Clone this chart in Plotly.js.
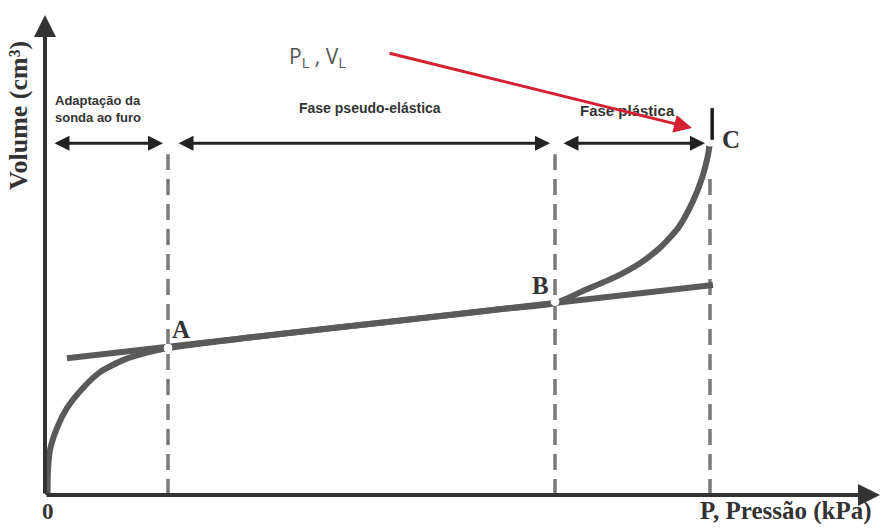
<!DOCTYPE html>
<html>
<head>
<meta charset="utf-8">
<script src="https://cdn.plot.ly/plotly-3.0.1.min.js"></script>
<style>
  html, body { margin: 0; padding: 0; background: #fff; }
  #chart { width: 889px; height: 529px; }
</style>
</head>
<body>
<div id="chart"></div>
<script>
// Pressuremeter curve: volume injected vs. applied pressure (schematic units)
const curvePressure = [0.3, 0.36, 0.6, 1.44, 2.63, 4.55, 6.59, 9.34, 12.57, 14.73,
                       25, 35, 45, 55, 61.08,
                       64.67, 68.26, 71.26, 73.65, 75.81, 77.49, 78.68, 79.40, 79.64];
const curveVolume   = [0, 5.2, 9.4, 14.0, 18.1, 22.3, 25.6, 28.1, 29.8, 30.6,
                       32.9, 34.9, 36.8, 38.8, 40.0,
                       42.7, 45.4, 48.3, 51.5, 55.6, 60.8, 66.0, 70.8, 73.5];

// Straight line fitted to the pseudo-elastic stretch
const fitPressure = [2.63, 80.0];
const fitVolume   = [28.5, 43.75];

// Characteristic points
const pointNames    = ['A', 'B', 'C'];
const pointPressure = [14.73, 61.08, 79.64];
const pointVolume   = [30.6, 40.3, 73.5];
const dashTop       = [71.0, 71.0, 66.0];

// Phase bands along the top (start / end pressure)
const phaseNames = ['Adaptação da<br>sonda ao furo', 'Fase pseudo-elástica', 'Fase plástica'];
const phaseStart = [0.96, 15.81, 61.92];
const phaseEnd   = [14.13, 60.48, 79.04];
const phaseTextX = [0.96, 38.9, 69.8];
const phaseArrowV = 73.3;
const phaseTextV  = [80.4, 80.6, 80.2];
const phaseFontSize = [13, 14, 15];

const grey = '#5a5a5a';
const serifBold = 'Liberation Serif';

const traces = [];

// vertical dashed guides at A, B, C
pointPressure.forEach((p, i) => {
  traces.push({
    x: [p, p], y: [0, dashTop[i]], mode: 'lines',
    line: { color: '#7a7a7a', width: 3.5, dash: '16px,9px' },
    hoverinfo: 'skip', showlegend: false
  });
});

traces.push({
  x: fitPressure, y: fitVolume, mode: 'lines',
  line: { color: grey, width: 6 }, hoverinfo: 'skip', showlegend: false
});

traces.push({
  x: curvePressure, y: curveVolume, mode: 'lines',
  line: { color: grey, width: 6, shape: 'spline', smoothing: 0.6 },
  hoverinfo: 'skip', showlegend: false
});

traces.push({
  x: pointPressure, y: pointVolume, mode: 'markers',
  marker: { size: 8, color: '#ffffff', line: { color: '#ffffff', width: 1 } },
  hoverinfo: 'skip', showlegend: false
});

// short black tick above C
traces.push({
  x: [79.9, 79.9], y: [74.0, 80.6], mode: 'lines',
  line: { color: '#1a1a1a', width: 3.5 }, hoverinfo: 'skip', showlegend: false
});

const annotations = [];

// axes with arrowheads
annotations.push({ x: 100, y: 0, ax: 0, ay: 0, xref: 'x', yref: 'y', axref: 'x', ayref: 'y',
  showarrow: true, arrowhead: 2, arrowsize: 1.1, arrowwidth: 4, arrowcolor: '#333', text: '' });
annotations.push({ x: 0, y: 100, ax: 0, ay: 0, xref: 'x', yref: 'y', axref: 'x', ayref: 'y',
  showarrow: true, arrowhead: 2, arrowsize: 1.1, arrowwidth: 4, arrowcolor: '#333', text: '' });

// phase double arrows and their captions
phaseNames.forEach((name, i) => {
  annotations.push({ x: phaseEnd[i], y: phaseArrowV, ax: phaseStart[i], ay: phaseArrowV,
    xref: 'x', yref: 'y', axref: 'x', ayref: 'y', text: '',
    showarrow: true, arrowhead: 2, startarrowhead: 2, arrowside: 'end+start',
    arrowsize: 1.0, startarrowsize: 1.0, arrowwidth: 3, arrowcolor: '#222' });
  annotations.push({ x: phaseTextX[i], y: phaseTextV[i], xref: 'x', yref: 'y',
    text: '<b>' + name + '</b>', showarrow: false,
    xanchor: i === 0 ? 'left' : 'center', yanchor: 'middle', align: 'left',
    font: { family: 'Liberation Sans', size: phaseFontSize[i], color: '#333' } });
});

// limit pressure / volume callout
annotations.push({ x: 32.6, y: 91.3, xref: 'x', yref: 'y', showarrow: false,
  text: 'P<sub>L</sub> , V<sub>L</sub>',
  font: { family: 'Open Sans', size: 21, color: '#555' } });
annotations.push({ x: 77.49, y: 76.46, ax: 41.08, ay: 92.1,
  xref: 'x', yref: 'y', axref: 'x', ayref: 'y', text: '',
  showarrow: true, arrowhead: 2, arrowsize: 1.2, arrowwidth: 3, arrowcolor: '#d42030' });

// point labels
const labelP = [16.3, 59.4, 82.2];
const labelV = [34.4, 43.6, 74.0];
pointNames.forEach((n, i) => {
  annotations.push({ x: labelP[i], y: labelV[i], xref: 'x', yref: 'y', showarrow: false,
    xanchor: 'center', yanchor: 'middle',
    text: '<b>' + n + '</b>', font: { family: serifBold, size: 25, color: '#333' } });
});

// origin and axis titles (below the plot area, so paper-referenced vertically)
annotations.push({ x: 0.4, y: -0.034, xref: 'x', yref: 'paper', showarrow: false,
  xanchor: 'center', yanchor: 'middle',
  text: '<b>0</b>', font: { family: serifBold, size: 23, color: '#333' } });
annotations.push({ x: 78.2, y: -0.034, xref: 'x', yref: 'paper', showarrow: false,
  xanchor: 'left', yanchor: 'middle',
  text: '<b>P, Pressão (kPa)</b>', font: { family: serifBold, size: 25, color: '#333' } });
annotations.push({ x: -0.031, y: 79.0, xref: 'paper', yref: 'y', showarrow: false, textangle: -90,
  xanchor: 'center', yanchor: 'middle',
  text: '<b>Volume (cm³)</b>', font: { family: serifBold, size: 26, color: '#333' } });

const layout = {
  width: 889, height: 529,
  margin: { l: 45, r: 9, t: 15, b: 34 },
  paper_bgcolor: '#fff', plot_bgcolor: '#fff',
  showlegend: false,
  xaxis: { range: [0, 100], showgrid: false, zeroline: false, showticklabels: false,
           showline: false, ticks: '', fixedrange: true },
  yaxis: { range: [0, 100], showgrid: false, zeroline: false, showticklabels: false,
           showline: false, ticks: '', fixedrange: true },
  annotations: annotations
};

Plotly.newPlot('chart', traces, layout, { staticPlot: true, displayModeBar: false });
</script>
</body>
</html>
